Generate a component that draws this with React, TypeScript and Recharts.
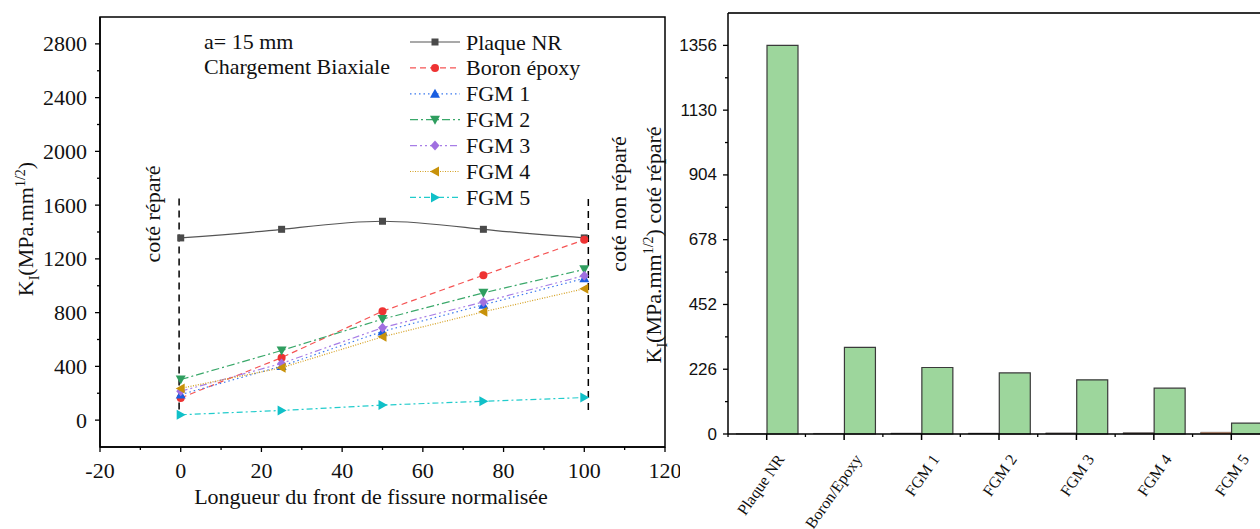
import React from 'react';
import {
  LineChart,
  Line,
  XAxis,
  YAxis,
  ReferenceLine,
  ReferenceArea,
  BarChart,
  Bar,
  Cell,
} from 'recharts';

// left panel: K_I along the crack front
const positions = [0, 25, 50, 75, 100];
const plaqueNR = [1356, 1420, 1480, 1420, 1356];
const boronEpoxy = [165, 465, 810, 1078, 1342];
const fgm1 = [190, 402, 660, 858, 1055];
const fgm2 = [302, 518, 752, 947, 1122];
const fgm3 = [215, 422, 688, 880, 1075];
const fgm4 = [236, 390, 620, 806, 978];
const fgm5 = [40, 72, 112, 140, 168];

const xTicks = [-20, -10, 0, 10, 20, 30, 40, 50, 60, 70, 80, 90, 100, 110, 120];
const yTicks = [0, 200, 400, 600, 800, 1000, 1200, 1400, 1600, 1800, 2000, 2200, 2400, 2600, 2800];

// right panel: bars
const categories = ['Plaque NR', 'Boron/Epoxy', 'FGM 1', 'FGM 2', 'FGM 3', 'FGM 4', 'FGM 5'];
const otherSide = [0.5, 2, 3, 3, 4, 5, 6];
const repairedSide = [1356, 302, 232, 213, 189, 160, 38];
const barTicks = [0, 113, 226, 339, 452, 565, 678, 791, 904, 1017, 1130, 1243, 1356];

const SERIF = '"Liberation Serif", "Times New Roman", serif';
const SANS = '"Liberation Sans", Arial, sans-serif';
const FS = 22;

const series = [
  { key: 'plaqueNR', name: 'Plaque NR', values: plaqueNR, color: '#555555', mark: '#4a4a4a', dash: undefined, shape: 'square', curve: 'natural' },
  { key: 'boronEpoxy', name: 'Boron époxy', values: boronEpoxy, color: '#f55454', mark: '#ee3333', dash: '6 4', shape: 'circle', curve: 'linear' },
  { key: 'fgm1', name: 'FGM 1', values: fgm1, color: '#3a78ee', mark: '#1a5ee0', dash: '1.5 3', shape: 'up', curve: 'linear' },
  { key: 'fgm2', name: 'FGM 2', values: fgm2, color: '#3aa86a', mark: '#2f9e5f', dash: '8 3 2 3', shape: 'down', curve: 'linear' },
  { key: 'fgm3', name: 'FGM 3', values: fgm3, color: '#a77ee6', mark: '#a070e0', dash: '7 3 2 3 2 3', shape: 'diamond', curve: 'linear' },
  { key: 'fgm4', name: 'FGM 4', values: fgm4, color: '#d4a020', mark: '#c8920a', dash: '1 1.5', shape: 'left', curve: 'linear' },
  { key: 'fgm5', name: 'FGM 5', values: fgm5, color: '#22cccc', mark: '#10c0c8', dash: '6 3 2 3', shape: 'right', curve: 'linear' },
];

const otherColors = ['#222222', '#9a9a9a', '#333333', '#222222', '#8a7f78', '#7a6a60', '#d08050'];

const lineData = positions.map((x, i) => {
  const row: any = { x };
  series.forEach((s) => {
    row[s.key] = s.values[i];
  });
  return row;
});

const barData = categories.map((name, i) => ({
  name,
  other: otherSide[i],
  repaired: repairedSide[i],
}));

function marker(shape: string, cx: number, cy: number, color: string, key?: string) {
  switch (shape) {
    case 'square':
      return <rect key={key} x={cx - 3.5} y={cy - 3.5} width={7} height={7} fill={color} />;
    case 'circle':
      return <circle key={key} cx={cx} cy={cy} r={4} fill={color} />;
    case 'up':
      return <path key={key} d={`M${cx},${cy - 5}L${cx + 5},${cy + 4}L${cx - 5},${cy + 4}Z`} fill={color} />;
    case 'down':
      return <path key={key} d={`M${cx},${cy + 5}L${cx + 5},${cy - 4}L${cx - 5},${cy - 4}Z`} fill={color} />;
    case 'diamond':
      return <path key={key} d={`M${cx},${cy - 5}L${cx + 4.5},${cy}L${cx},${cy + 5}L${cx - 4.5},${cy}Z`} fill={color} />;
    case 'left':
      return <path key={key} d={`M${cx - 5},${cy}L${cx + 4},${cy - 5}L${cx + 4},${cy + 5}Z`} fill={color} />;
    default:
      return <path key={key} d={`M${cx + 5},${cy}L${cx - 4},${cy - 5}L${cx - 4},${cy + 5}Z`} fill={color} />;
  }
}

const LeftYTick = (props: any) => {
  const { x, y, payload } = props;
  const major = payload.value % 400 === 0;
  return (
    <g>
      <line x1={x} x2={x - (major ? 5 : 3)} y1={y} y2={y} stroke="#000" strokeWidth={1.3} />
      {major && (
        <text x={x - 13} y={y} textAnchor="end" dominantBaseline="central" fontSize={FS} fontFamily={SERIF} fill="#111">
          {payload.value}
        </text>
      )}
    </g>
  );
};

const LeftXTick = (props: any) => {
  const { x, y, payload } = props;
  const major = payload.value % 20 === 0;
  return (
    <g>
      <line x1={x} x2={x} y1={y} y2={y + (major ? 5 : 3)} stroke="#000" strokeWidth={1.3} />
      {major && (
        <text x={x} y={y + 23} textAnchor="middle" dominantBaseline="central" fontSize={FS} fontFamily={SERIF} fill="#111">
          {payload.value}
        </text>
      )}
    </g>
  );
};

const BarYTick = (props: any) => {
  const { x, y, payload } = props;
  const major = payload.value % 226 === 0;
  return (
    <g>
      <line x1={x} x2={x - (major ? 5 : 3)} y1={y} y2={y} stroke="#000" strokeWidth={1.3} />
      {major && (
        <text x={x - 11} y={y} textAnchor="end" dominantBaseline="central" fontSize={17} fontFamily={SANS} fill="#111">
          {payload.value}
        </text>
      )}
    </g>
  );
};

const BarXTick = (props: any) => {
  const { x, y, payload } = props;
  const tx = x + 14;
  const ty = y + 22;
  return (
    <g>
      <line x1={x} x2={x} y1={y} y2={y + 6} stroke="#000" strokeWidth={1.5} />
      <line x1={x - 38.7} x2={x - 38.7} y1={y} y2={y + 3} stroke="#000" strokeWidth={1.3} />
      <text
        x={tx}
        y={ty}
        textAnchor="end"
        dominantBaseline="central"
        fontSize={16}
        fontFamily={SERIF}
        fill="#111"
        transform={`rotate(-55, ${tx}, ${ty})`}
      >
        {payload.value}
      </text>
    </g>
  );
};

const LegendBox = () => (
  <svg width={200} height={190} style={{ position: 'absolute', left: 407, top: 28 }}>
    {series.map((s, i) => {
      const cy = 14 + i * 25.9;
      return (
        <g key={s.key}>
          <line x1={3} x2={53} y1={cy} y2={cy} stroke={s.color} strokeWidth={1.2} strokeDasharray={s.dash} />
          {marker(s.shape, 28, cy, s.mark)}
          <text x={59} y={cy} dominantBaseline="central" fontSize={FS} fontFamily={SERIF} fill="#111">
            {s.name}
          </text>
        </g>
      );
    })}
  </svg>
);

const vText = (left: number, top: number, content: React.ReactNode, size = FS) => (
  <div
    style={{
      position: 'absolute',
      left,
      top,
      transform: 'translate(-50%, -50%) rotate(-90deg)',
      whiteSpace: 'nowrap',
      fontFamily: SERIF,
      fontSize: size,
      color: '#111',
      lineHeight: 1,
    }}
  >
    {content}
  </div>
);

const kLabel = (
  <span>
    K<sub style={{ fontSize: 14 }}>I</sub>(MPa.mm<sup style={{ fontSize: 14 }}>1/2</sup>)
  </span>
);

export default function App() {
  return (
    <div style={{ position: 'absolute', left: 0, top: 0, width: 1260, height: 529, overflow: 'hidden', background: '#fff' }}>
      <div style={{ position: 'absolute', left: 0, top: 0 }}>
        <LineChart width={680} height={529} data={lineData} margin={{ top: 17, right: 15, bottom: 32, left: 40 }}>
          <XAxis
            dataKey="x"
            type="number"
            domain={[-20, 120]}
            ticks={xTicks}
            interval={0}
            tick={LeftXTick}
            tickLine={false}
            tickSize={0}
            tickMargin={0}
            height={50}
            axisLine={{ stroke: '#000', strokeWidth: 1.5 }}
          />
          <YAxis
            type="number"
            domain={[-200, 3000]}
            ticks={yTicks}
            interval={0}
            tick={LeftYTick}
            tickLine={false}
            tickSize={0}
            tickMargin={0}
            width={60}
            axisLine={{ stroke: '#000', strokeWidth: 1.5 }}
          />
          <ReferenceArea x1={-20} x2={120} y1={-200} y2={3000} fill="none" fillOpacity={0} stroke="#000" strokeWidth={1.5} />
          <ReferenceLine segment={[{ x: -0.4, y: 1650 }, { x: -0.4, y: 70 }]} stroke="#000" strokeWidth={1.5} strokeDasharray="7 5" />
          <ReferenceLine segment={[{ x: 101, y: 1645 }, { x: 101, y: 65 }]} stroke="#000" strokeWidth={1.5} strokeDasharray="7 5" />
          {series.map((s) => (
            <Line
              key={s.key}
              dataKey={s.key}
              name={s.name}
              type={s.curve as any}
              stroke={s.color}
              strokeWidth={1.2}
              strokeDasharray={s.dash}
              dot={(p: any) => marker(s.shape, p.cx, p.cy, s.mark, `${s.key}-${p.index}`)}
              activeDot={false}
              isAnimationActive={false}
            />
          ))}
        </LineChart>
      </div>

      <LegendBox />

      <div style={{ position: 'absolute', left: 660, top: 0 }}>
        <BarChart width={620} height={529} data={barData} margin={{ top: 13, right: 10, bottom: 0, left: 0 }} barGap={0} barSize={31}>
          <XAxis
            dataKey="name"
            interval={0}
            tick={BarXTick}
            tickLine={false}
            tickSize={0}
            tickMargin={0}
            height={95}
            axisLine={{ stroke: '#000', strokeWidth: 1.5 }}
          />
          <YAxis
            type="number"
            domain={[0, 1469]}
            ticks={barTicks}
            interval={0}
            tick={BarYTick}
            tickLine={false}
            tickSize={0}
            tickMargin={0}
            width={68}
            axisLine={{ stroke: '#000', strokeWidth: 1.5 }}
          />
          <ReferenceLine y={1469} stroke="#333" strokeWidth={2} />
          <Bar dataKey="other" isAnimationActive={false} stroke="#444" strokeWidth={0.5}>
            {barData.map((d, i) => (
              <Cell key={d.name} fill={otherColors[i]} />
            ))}
          </Bar>
          <Bar dataKey="repaired" fill="#9dd69c" stroke="#3a3a3a" strokeWidth={1.2} isAnimationActive={false} />
        </BarChart>
      </div>

      <div style={{ position: 'absolute', left: 204, top: 29, fontFamily: SERIF, fontSize: FS, color: '#111', lineHeight: '25px', whiteSpace: 'nowrap' }}>
        <div>a= 15 mm</div>
        <div>Chargement Biaxiale</div>
      </div>

      <div
        style={{
          position: 'absolute',
          left: 371,
          top: 497,
          transform: 'translate(-50%, -50%)',
          fontFamily: SERIF,
          fontSize: FS,
          color: '#111',
          whiteSpace: 'nowrap',
        }}
      >
        Longueur du front de fissure normalisée
      </div>

      {vText(28, 229, kLabel)}
      {vText(153, 214, 'coté réparé')}
      {vText(619, 204, 'coté non réparé')}
      {vText(656, 245, <span>{kLabel} coté réparé</span>)}
    </div>
  );
}
